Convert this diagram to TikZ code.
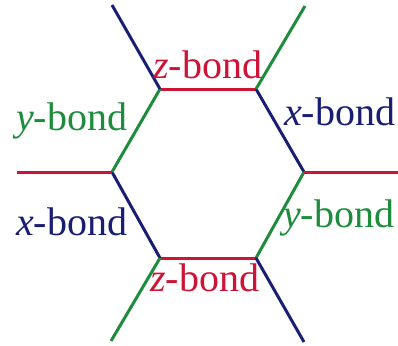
\documentclass[tikz,border=0pt]{standalone}
\usepackage{fontspec}
\setmainfont{Liberation Serif}
\definecolor{zred}{RGB}{205,20,55}
\definecolor{ygreen}{RGB}{30,140,60}
\definecolor{xblue}{RGB}{25,30,115}
\tikzset{
  bond/.style={line width=3pt},
  xb/.style={bond,draw=xblue},
  yb/.style={bond,draw=ygreen},
  zb/.style={bond,draw=zred},
  lbl/.style={anchor=base west,inner sep=0pt,font=\fontsize{40}{40}\selectfont}
}
\begin{document}
\begin{tikzpicture}[x=1pt,y=-1pt]
\useasboundingbox (0,0) rectangle (398,345);
% hexagon vertices
\coordinate (tl) at (160,89);
\coordinate (tr) at (256,89);
\coordinate (r) at (304,172);
\coordinate (br) at (256,258);
\coordinate (bl) at (160,258);
\coordinate (l) at (112,172);
% leg ends
\coordinate (tlo) at (112,5);
\coordinate (tro) at (305,6);
\coordinate (lo) at (17,172);
\coordinate (ro) at (400,172);
\coordinate (blo) at (111,341);
\coordinate (bro) at (304,342);
% hexagon edges
\draw[zb] (tl) -- (tr);
\draw[xb] (tr) -- (r);
\draw[yb] (r) -- (br);
\draw[zb] (br) -- (bl);
\draw[xb] (bl) -- (l);
\draw[yb] (l) -- (tl);
% legs
\draw[xb] (tl) -- (tlo);
\draw[yb] (tr) -- (tro);
\draw[zb] (l) -- (lo);
\draw[zb] (r) -- (ro);
\draw[yb] (bl) -- (blo);
\draw[xb] (br) -- (bro);
% labels
\node[lbl,text=zred] (zt) at (153,78) {\textit{z}-bond};
\node[lbl,text=ygreen] (yl) at (16,130) {\textit{y}-bond};
\node[lbl,text=xblue] (xr) at (284,125) {\textit{x}-bond};
\node[lbl,text=xblue] (xl) at (16,235) {\textit{x}-bond};
\node[lbl,text=ygreen] (yr) at (283,227) {\textit{y}-bond};
\node[lbl,text=zred] (zb) at (150,291) {\textit{z}-bond};
\end{tikzpicture}
\end{document}
